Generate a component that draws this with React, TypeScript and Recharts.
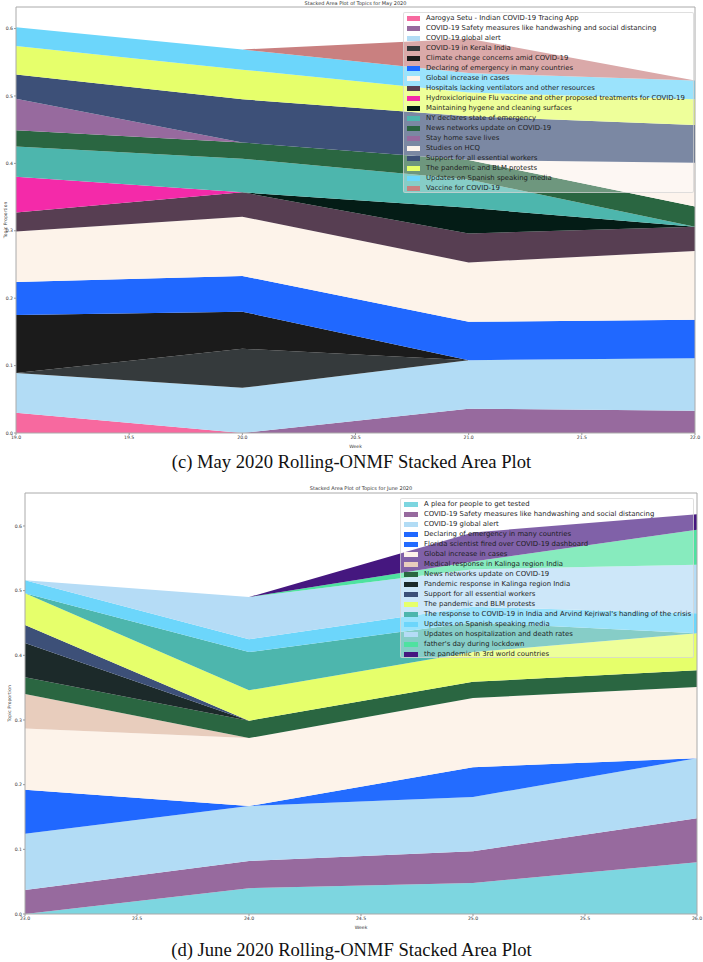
import { AreaChart, Area, XAxis, YAxis, ReferenceArea } from "recharts";

// ---- May 2020 ----
const mayWeeks = [19, 20, 21, 22];
const mayTicksX = [19, 19.5, 20, 20.5, 21, 21.5, 22];
const mayTopics = [
  "Aarogya Setu - Indian COVID-19 Tracing App",
  "COVID-19 Safety measures like handwashing and social distancing",
  "COVID-19 global alert",
  "COVID-19 in Kerala India",
  "Climate change concerns amid COVID-19",
  "Declaring of emergency in many countries",
  "Global increase in cases",
  "Hospitals lacking ventilators and other resources",
  "Hydroxicloriquine Flu vaccine and other proposed treatments for COVID-19",
  "Maintaining hygene and cleaning surfaces",
  "NY declares state of emergency",
  "News networks update on COVID-19",
  "Stay home save lives",
  "Studies on HCQ",
  "Support for all essential workers",
  "The pandemic and BLM protests",
  "Updates on Spanish speaking media",
  "Vaccine for COVID-19",
];
const mayColors = [
  "#f7699f", "#976a9e", "#b2dcf5", "#353a3c", "#1b1b1b", "#2068ff",
  "#fdf3ea", "#573e52", "#f42aa9", "#041c16", "#4db6ad", "#2a6641",
  "#976a9e", "#fdf4ed", "#3d5078", "#e6ff6b", "#6cd6fb", "#c98080",
];
const mayAarogya = [0.03, 0, 0, 0];
const maySafety = [0, 0, 0.036, 0.033];
const mayGlobalAlert = [0.059, 0.067, 0.072, 0.078];
const mayKerala = [0, 0.058, 0, 0];
const mayClimate = [0.086, 0.055, 0, 0];
const mayEmergency = [0.049, 0.053, 0.057, 0.057];
const mayIncrease = [0.075, 0.088, 0.088, 0.102];
const mayHospitals = [0.028, 0.036, 0.043, 0.036];
const mayHydroxi = [0.053, 0, 0, 0];
const mayHygene = [0, 0, 0.038, 0];
const mayNY = [0.045, 0.05, 0.042, 0];
const mayNews = [0.024, 0.024, 0.029, 0.03];
const mayStayHome = [0.047, 0, 0, 0];
const mayHCQ = [0, 0, 0, 0.065];
const maySupport = [0.036, 0.064, 0.065, 0.056];
const mayBLM = [0.042, 0.044, 0.035, 0.038];
const maySpanish = [0.028, 0.03, 0.029, 0.028];
const mayVaccine = [0, 0, 0.051, 0];
const maySeries = [
  mayAarogya, maySafety, mayGlobalAlert, mayKerala, mayClimate, mayEmergency,
  mayIncrease, mayHospitals, mayHydroxi, mayHygene, mayNY, mayNews,
  mayStayHome, mayHCQ, maySupport, mayBLM, maySpanish, mayVaccine,
];

// ---- June 2020 ----
const juneWeeks = [23, 24, 25, 26];
const juneTicksX = [23, 23.5, 24, 24.5, 25, 25.5, 26];
const juneTopics = [
  "A plea for people to get tested",
  "COVID-19 Safety measures like handwashing and social distancing",
  "COVID-19 global alert",
  "Declaring of emergency in many countries",
  "Florida scientist fired over COVID-19 dashboard",
  "Global increase in cases",
  "Medical response in Kalinga region India",
  "News networks update on COVID-19",
  "Pandemic response in Kalinga region India",
  "Support for all essential workers",
  "The pandemic and BLM protests",
  "The response to COVID-19 in India and Arvind Kejriwal's handling of the crisis",
  "Updates on Spanish speaking media",
  "Updates on hospitalization and death rates",
  "father's day during lockdown",
  "the pandemic in 3rd world countries",
];
const juneColors = [
  "#7dd6e0", "#976a9e", "#b2dcf5", "#2068ff", "#236cff", "#fdf3ea",
  "#e8cdbd", "#2a6641", "#1c2a2a", "#3d5078", "#e6ff6b", "#4db6ad",
  "#6cd6fb", "#b5dcf6", "#4ee2a0", "#45177f",
];
const junePlea = [0, 0.04, 0.048, 0.08];
const juneSafety = [0.037, 0.042, 0.049, 0.068];
const juneGlobalAlert = [0.087, 0.085, 0.084, 0.093];
const juneEmergency = [0.068, 0, 0, 0];
const juneFlorida = [0, 0, 0.046, 0];
const juneIncrease = [0.095, 0.105, 0.107, 0.11];
const juneMedical = [0.053, 0, 0, 0];
const juneNews = [0.026, 0.027, 0.025, 0.026];
const juneKalinga = [0.053, 0, 0, 0];
const juneSupport = [0.028, 0, 0, 0];
const juneBLM = [0.049, 0.047, 0.046, 0.057];
const juneKejriwal = [0, 0.059, 0.046, 0];
const juneSpanish = [0.02, 0.02, 0.024, 0.031];
const juneHospitalization = [0, 0.065, 0.058, 0.075];
const juneFathers = [0, 0, 0.012, 0.054];
const juneThirdWorld = [0, 0, 0.045, 0.024];
const juneSeries = [
  junePlea, juneSafety, juneGlobalAlert, juneEmergency, juneFlorida, juneIncrease,
  juneMedical, juneNews, juneKalinga, juneSupport, juneBLM, juneKejriwal,
  juneSpanish, juneHospitalization, juneFathers, juneThirdWorld,
];

const propTicks = [0, 0.1, 0.2, 0.3, 0.4, 0.5, 0.6];

const SANS = "'DejaVu Sans', sans-serif";
const SERIF = "'Liberation Serif', 'DejaVu Serif', serif";

function buildRows(weeks: number[], series: number[][]) {
  return weeks.map((w, i) => {
    const row: Record<string, number> = { week: w };
    series.forEach((s, k) => {
      row["t" + k] = s[i];
    });
    return row;
  });
}

function TopicLegend({
  names,
  colors,
  left,
  top,
  width,
  height,
  handleW,
}: {
  names: string[];
  colors: string[];
  left: number;
  top: number;
  width: number;
  height: number;
  handleW: number;
}) {
  return (
    <div
      style={{
        position: "absolute",
        left,
        top,
        width,
        height,
        boxSizing: "border-box",
        background: "rgba(255,255,255,0.32)",
        border: "1px solid rgba(210,210,210,0.7)",
        borderRadius: 2,
        fontFamily: SANS,
        fontSize: 6.9,
        color: "#1e1e1e",
      }}
    >
      {names.map((n, i) => (
        <div
          key={n}
          style={{
            position: "absolute",
            left: 3,
            top: i * 10,
            height: 10,
            display: "flex",
            alignItems: "center",
            whiteSpace: "nowrap",
          }}
        >
          <span
            style={{
              display: "inline-block",
              width: handleW,
              height: 5,
              background: colors[i],
              marginRight: 6,
            }}
          />
          {n}
        </div>
      ))}
    </div>
  );
}

function StackPanel({
  top,
  height,
  plotLeft,
  plotRight,
  plotTop,
  plotBottom,
  weeks,
  xTicks,
  series,
  colors,
  yMax,
}: {
  top: number;
  height: number;
  plotLeft: number;
  plotRight: number;
  plotTop: number;
  plotBottom: number;
  weeks: number[];
  xTicks: number[];
  series: number[][];
  colors: string[];
  yMax: number;
}) {
  const rows = buildRows(weeks, series);
  const tick = { fontSize: 4.6, fill: "#333", fontFamily: SANS };
  return (
    <div style={{ position: "absolute", left: 0, top }}>
      <AreaChart
        width={703}
        height={height}
        data={rows}
        margin={{ top: plotTop - top, right: 703 - plotRight, bottom: 0, left: 0 }}
      >
        <XAxis
          dataKey="week"
          type="number"
          domain={[weeks[0], weeks[weeks.length - 1]]}
          ticks={xTicks}
          tickFormatter={(v: number) => v.toFixed(1)}
          tick={tick}
          tickSize={2}
          tickMargin={1}
          height={top + height - plotBottom}
          axisLine={false}
          tickLine={{ stroke: "#999" }}
          label={{ value: "Week", position: "insideBottom", offset: 12, fontSize: 4.6, fill: "#333", fontFamily: SANS }}
        />
        <YAxis
          type="number"
          domain={[0, yMax]}
          ticks={propTicks}
          tickFormatter={(v: number) => v.toFixed(1)}
          tick={tick}
          tickSize={2}
          tickMargin={1}
          width={plotLeft}
          axisLine={false}
          tickLine={{ stroke: "#999" }}
          label={{ value: "Topic Proportion", angle: -90, position: "insideLeft", offset: plotLeft > 20 ? 9 : 5, fontSize: 4.6, fill: "#333", fontFamily: SANS, style: { textAnchor: "middle" } }}
        />
        {series.map((_, k) => (
          <Area
            key={k}
            type="linear"
            dataKey={"t" + k}
            stackId="s"
            stroke="none"
            fill={colors[k]}
            fillOpacity={1}
            isAnimationActive={false}
            dot={false}
            activeDot={false}
          />
        ))}
        <ReferenceArea
          x1={weeks[0]}
          x2={weeks[weeks.length - 1]}
          y1={0}
          y2={yMax}
          fill="none"
          stroke="#aaa"
          strokeWidth={1}
          ifOverflow="visible"
        />
      </AreaChart>
    </div>
  );
}

export default function App() {
  return (
    <div style={{ position: "absolute", left: 0, top: 0, width: 703, height: 962, background: "#fff" }}>
      <div style={{ position: "absolute", left: 16, width: 679, top: 0, textAlign: "center", fontFamily: SANS, fontSize: 5, color: "#333" }}>
        Stacked Area Plot of Topics for May 2020
      </div>
      <StackPanel
        top={0}
        height={460}
        plotLeft={16}
        plotRight={695}
        plotTop={7}
        plotBottom={433}
        weeks={mayWeeks}
        xTicks={mayTicksX}
        series={maySeries}
        colors={mayColors}
        yMax={0.632}
      />
      <TopicLegend names={mayTopics} colors={mayColors} left={403} top={12} width={291} height={181} handleW={13} />
      <div style={{ position: "absolute", left: 0, width: 703, top: 451, textAlign: "center", fontFamily: SERIF, fontSize: 18.6, color: "#111" }}>
        (c) May 2020 Rolling-ONMF Stacked Area Plot
      </div>

      <div style={{ position: "absolute", left: 25, width: 672, top: 485, textAlign: "center", fontFamily: SANS, fontSize: 5, color: "#333" }}>
        Stacked Area Plot of Topics for June 2020
      </div>
      <StackPanel
        top={470}
        height={471}
        plotLeft={25}
        plotRight={697}
        plotTop={493}
        plotBottom={914}
        weeks={juneWeeks}
        xTicks={juneTicksX}
        series={juneSeries}
        colors={juneColors}
        yMax={0.651}
      />
      <TopicLegend names={juneTopics} colors={juneColors} left={400} top={498} width={294} height={160} handleW={14} />
      <div style={{ position: "absolute", left: 0, width: 703, top: 939, textAlign: "center", fontFamily: SERIF, fontSize: 18.6, color: "#111" }}>
        (d) June 2020 Rolling-ONMF Stacked Area Plot
      </div>
    </div>
  );
}
